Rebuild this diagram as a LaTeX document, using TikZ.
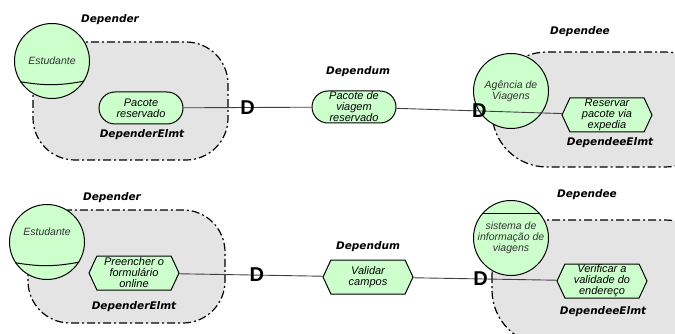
\documentclass[tikz,border=0pt]{standalone}
\usepackage{fontspec}
\setmainfont{Liberation Sans}
\newfontfamily\tagfont{DejaVu Sans}
\usepackage{tikz}
\usetikzlibrary{shapes,calc}
\definecolor{actgreen}{RGB}{204,255,204}
\definecolor{bndgray}{RGB}{228,228,228}
\tikzset{
        boundary/.style = {draw, fill=bndgray, line width=1.2pt,
            dash pattern=on 8pt off 3pt on 2pt off 3pt},
        actor/.style = {draw, circle, fill=actgreen, line width=1pt,
            minimum size=75pt, inner sep=0pt, align=center, text=black!80,
            font=\itshape\fontsize{10.5}{11}\selectfont},
        goal/.style = {draw, rounded rectangle, fill=actgreen, line width=1pt,
            minimum width=84pt, minimum height=32pt, inner sep=0pt,
            align=center, font=\itshape\fontsize{11}{11}\selectfont},
        task/.style = {draw, signal, signal to=east and west,
            signal pointer angle=130, fill=actgreen, line width=1pt,
            minimum width=90pt, minimum height=34pt, inner sep=0pt,
            align=center, font=\itshape\fontsize{11}{11}\selectfont},
        tag/.style = {font=\tagfont\bfseries\itshape\fontsize{10.5}{12}\selectfont},
        dee/.style = {inner sep=0pt, text=black, font=\bfseries\fontsize{20}{20}\selectfont},
        link/.style = {draw, line width=0.9pt, black!75},
    }

\begin{document}
\begin{tikzpicture}[x=1pt, y=-1pt]
    \clip (0,0) rectangle (675,334);

    % upper dependency
    \draw[boundary, rounded corners=42pt] (33,42) rectangle (228,160);
    \draw[boundary, rounded corners=55pt] (492,52) rectangle (720,167);

    \node[actor] (a1) at (52,61) {Estudante};
    \draw[line width=1pt] (a1.213) to[bend right=10] (a1.328);
    \node[actor] (a2) at (511,91) {Agência de\\Viagens};

    \node[goal] (g1) at (141,108) {Pacote\\reservado};
    \node[goal] (dm1) at (354,107) {Pacote de\\viagem\\reservado};
    \node[task] (t1) at (607,115) {Reservar\\pacote via\\expedia};

    \node[tag] (l1) at (110,20) {Depender};
    \node[tag] (l2) at (142,135) {DependerElmt};
    \node[tag] (l3) at (358,72) {Dependum};
    \node[tag] (l4) at (580,32) {Dependee};
    \node[tag] (l5) at (610,143) {DependeeElmt};

    \draw[link] (g1) -- node[dee, pos=0.5] {D} (dm1);
    \draw[link] (dm1) -- node[dee, pos=0.5] {D} (t1);

    % lower dependency
    \draw[boundary, rounded corners=42pt] (28,210) rectangle (225,323);
    \draw[boundary, rounded corners=55pt] (492,220) rectangle (720,345);

    \node[actor, text depth=20pt] (a3) at (47,242) {Estudante};
    \draw[line width=1pt] (a3.213) to[bend right=10] (a3.328);
    \node[actor] (a4) at (511,238) {sistema de\\informação de\\viagens};
    \draw[line width=1pt] (a4.139) -- (a4.41);

    \node[task] (t2) at (134,273) {Preencher o\\formulário\\online};
    \node[task] (dm2) at (368,277) {Validar\\campos};
    \node[task] (t3) at (602,281) {Verificar a\\validade do\\endereço};

    \node[tag] (l6) at (112,198) {Depender};
    \node[tag] (l7) at (134,307) {DependerElmt};
    \node[tag] (l8) at (368,247) {Dependum};
    \node[tag] (l9) at (587,195) {Dependee};
    \node[tag] (l10) at (603,312) {DependeeElmt};

    \draw[link] (t2) -- node[dee, pos=0.54] {D} (dm2);
    \draw[link] (dm2) -- node[dee, pos=0.47] {D} (t3);
\end{tikzpicture}
\end{document}
